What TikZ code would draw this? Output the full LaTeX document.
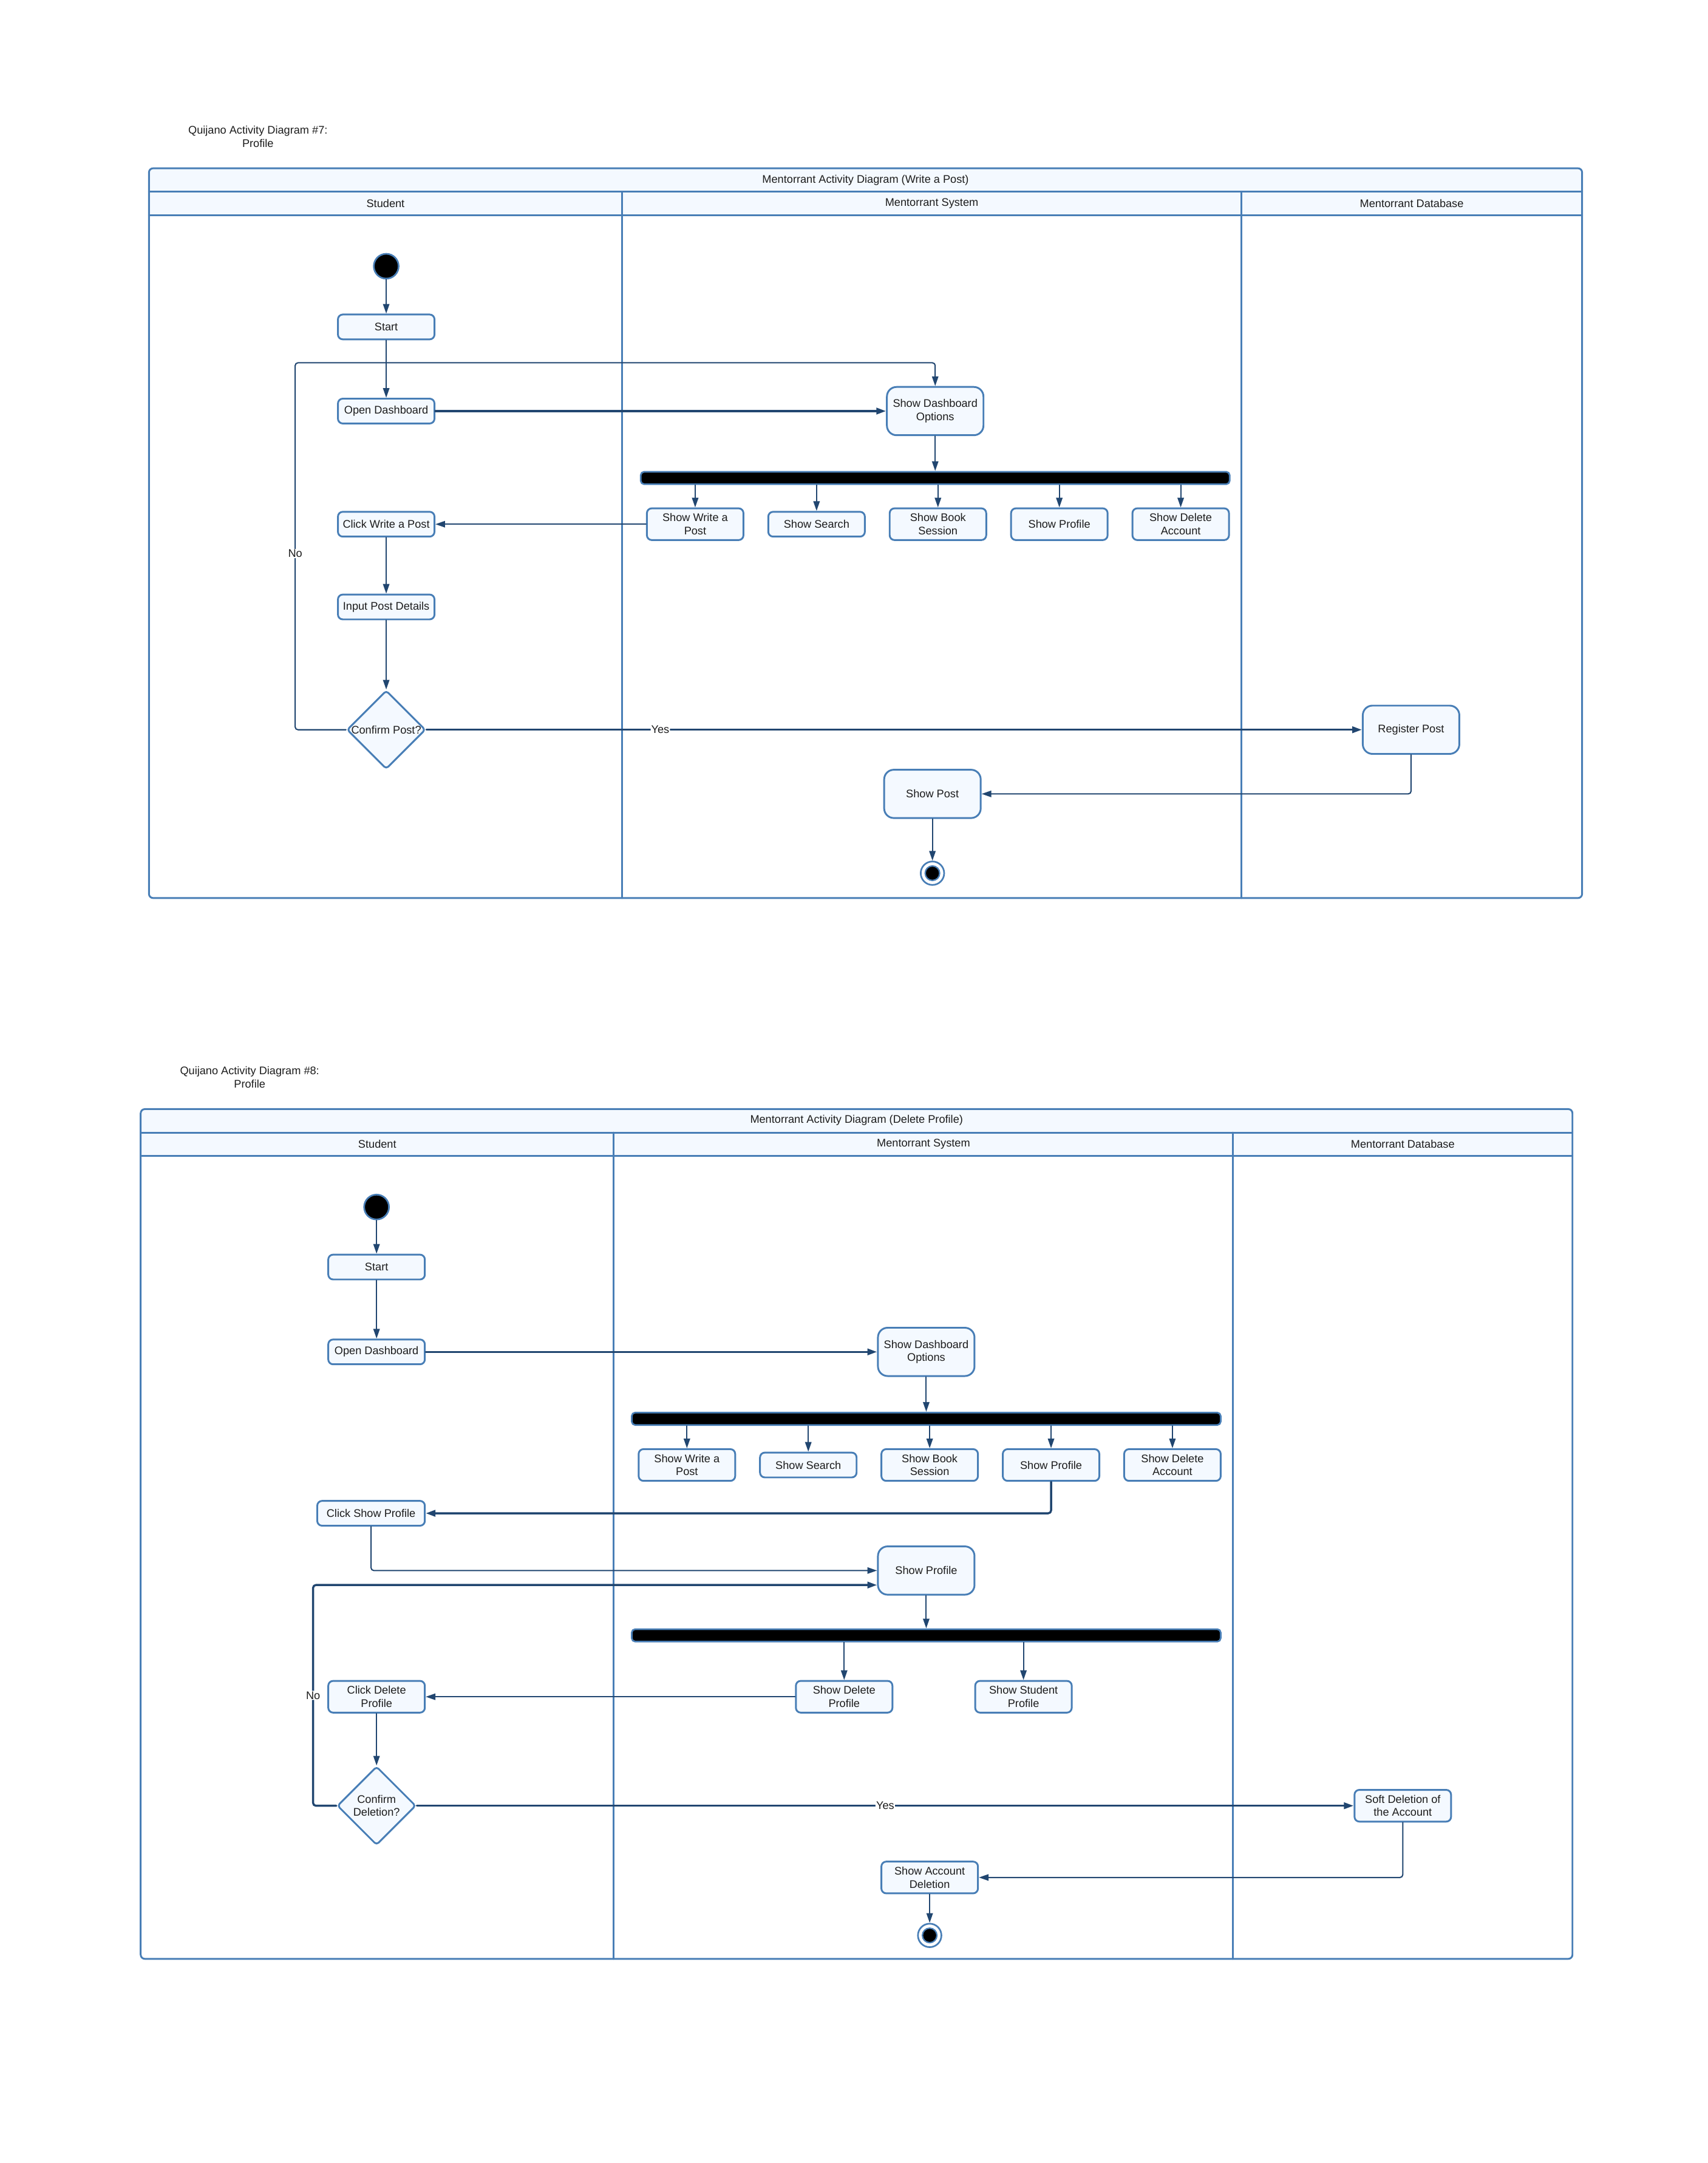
\documentclass[tikz,border=0pt]{standalone}
\usepackage{fontspec}
\setmainfont{Liberation Sans}
\usetikzlibrary{shapes.geometric,arrows.meta}
\definecolor{laneblue}{RGB}{72,126,182}
\definecolor{paleblue}{RGB}{244,249,255}
\definecolor{navy}{RGB}{33,70,112}
\definecolor{inkgrey}{RGB}{28,28,28}

\begin{document}
\begin{tikzpicture}[x=1pt, y=-1pt, font=\fontsize{8}{9.5}\selectfont, text=inkgrey, line join=round, line cap=round,
  >={Triangle[length=7pt,width=4.6pt]},
  lane/.style={draw=laneblue, line width=1.3pt},
  act/.style={draw=laneblue, fill=paleblue, line width=1.3pt, rounded corners=3.5pt, minimum width=70pt, minimum height=18pt, inner sep=1.5pt, align=center},
  opt/.style={act, minimum height=23pt},
  bigact/.style={act, minimum height=35pt, rounded corners=7pt},
  decide/.style={diamond, draw=laneblue, fill=paleblue, line width=1.3pt, rounded corners=2pt, minimum size=57pt, inner sep=0pt, align=center},
  bar/.style={draw=laneblue, fill=black, line width=1.2pt, rounded corners=2.5pt, minimum width=427pt, minimum height=9pt, inner sep=0pt},
  startdot/.style={circle, draw=laneblue, fill=black, line width=1.2pt, minimum size=18pt, inner sep=0pt},
  finish/.style={circle, draw=laneblue, fill=white, line width=1.2pt, minimum size=17pt, inner sep=0pt},
  finishdot/.style={circle, draw=laneblue, fill=black, line width=1pt, minimum size=10.5pt, inner sep=0pt},
  flow/.style={->, draw=navy, line width=0.9pt, rounded corners=2pt},
  boldflow/.style={flow, line width=1.5pt},
  lbl/.style={fill=white, inner sep=0.5pt}]
\useasboundingbox (0,0) rectangle (1238,1568);

% diagram 7: write a post
\node[align=center] (cap7) at (187,99) {Quijano Activity Diagram \#7:\\Profile};
\fill[paleblue] (108,122) rectangle (1147,156);
\draw[lane] (108,139) -- (1147,139) (108,156) -- (1147,156) (451,139) -- (451,651) (900,139) -- (900,651);
\draw[lane, rounded corners=3pt] (108,122) rectangle (1147,651);
\node (head7) at (627.5,130.5) {Mentorrant Activity Diagram (Write a Post)};
\node (stu7) at (279.5,147.5) {Student};
\node (sys7) at (675.5,147.5) {Mentorrant System};
\node (db7) at (1023.5,147.5) {Mentorrant Database};

\node[startdot] (init7) at (280,193) {};
\node[act] (start7) at (280,237) {Start};
\node[act] (open7) at (280,298) {Open Dashboard};
\node[bigact] (dash7) at (678,298) {Show Dashboard\\Options};
\node[bar] (fork7) at (678,346.5) {};
\node[opt] (write7) at (504,380) {Show Write a\\Post};
\node[act] (search7) at (592,380) {Show Search};
\node[opt] (book7) at (680,380) {Show Book\\Session};
\node[opt] (prof7) at (768,380) {Show Profile};
\node[opt] (del7) at (856,380) {Show Delete\\Account};
\node[act] (click7) at (280,380) {Click Write a Post};
\node[act] (input7) at (280,440) {Input Post Details};
\node[decide] (conf7) at (280,529) {Confirm Post?};
\node[bigact] (reg7) at (1023,529) {Register Post};
\node[bigact] (show7) at (676,575.5) {Show Post};
\node[finish] (end7) at (676,633) {};
\node[finishdot] (end7dot) at (end7) {};
\coordinate (back7) at (214,263);

\draw[flow] (init7) -- (start7);
\draw[flow] (start7) -- (open7);
\draw[boldflow] (open7) -- (dash7);
\draw[flow] (dash7) -- (fork7);
\foreach \n in {write7,search7,book7,prof7,del7}
  \draw[flow] (fork7.south -| \n.north) -- (\n.north);
\draw[flow] (write7) -- (click7);
\draw[flow] (click7) -- (input7);
\draw[flow] (input7) -- (conf7);
\draw[flow] (conf7.west) -| node[lbl, pos=0.74] (no7) {No} (back7) -| (dash7.north);
\draw[boldflow] (conf7) -- node[lbl, pos=0.25] (yes7) {Yes} (reg7);
\draw[flow] (reg7.south) |- (show7.east);
\draw[flow] (show7) -- (end7);

% diagram 8: delete profile
\node[align=center] (cap8) at (181,781) {Quijano Activity Diagram \#8:\\Profile};
\fill[paleblue] (102,804) rectangle (1140,838);
\draw[lane] (102,821) -- (1140,821) (102,838) -- (1140,838) (445,821) -- (445,1420) (894,821) -- (894,1420);
\draw[lane, rounded corners=3pt] (102,804) rectangle (1140,1420);
\node (head8) at (621,812) {Mentorrant Activity Diagram (Delete Profile)};
\node (stu8) at (273.5,829.5) {Student};
\node (sys8) at (669.5,829.5) {Mentorrant System};
\node (db8) at (1017,829.5) {Mentorrant Database};

\node[startdot] (init8) at (273,875) {};
\node[act] (start8) at (273,918.5) {Start};
\node[act] (open8) at (273,980) {Open Dashboard};
\node[bigact] (dash8) at (671.5,980) {Show Dashboard\\Options};
\node[bar] (fork8) at (671.5,1028.5) {};
\node[opt] (write8) at (498,1062) {Show Write a\\Post};
\node[act] (search8) at (586,1062) {Show Search};
\node[opt] (book8) at (674,1062) {Show Book\\Session};
\node[opt] (prof8) at (762,1062) {Show Profile};
\node[opt] (del8) at (850,1062) {Show Delete\\Account};
\node[act, minimum width=78pt] (click8) at (269,1097) {Click Show Profile};
\node[bigact] (view8) at (671.5,1138.5) {Show Profile};
\node[bar] (fork8b) at (671.5,1185.5) {};
\node[opt] (delp8) at (612,1230) {Show Delete\\Profile};
\node[opt] (stud8) at (742,1230) {Show Student\\Profile};
\node[opt] (clickdel8) at (273,1230) {Click Delete\\Profile};
\node[decide] (conf8) at (273,1309) {Confirm\\Deletion?};
\node[opt] (soft8) at (1017,1309) {Soft Deletion of\\the Account};
\node[opt] (acct8) at (674,1361) {Show Account\\Deletion};
\node[finish] (end8) at (674,1403) {};
\node[finishdot] (end8dot) at (end8) {};
\coordinate (back8) at (227,1149);

\draw[flow] (init8) -- (start8);
\draw[flow] (start8) -- (open8);
\draw[boldflow] (open8) -- (dash8);
\draw[flow] (dash8) -- (fork8);
\foreach \n in {write8,search8,book8,prof8,del8}
  \draw[flow] (fork8.south -| \n.north) -- (\n.north);
\draw[boldflow] (prof8.south) |- (click8.east);
\draw[flow] (click8.south) |- (view8.west);
\draw[boldflow] (conf8.west) -| node[lbl, pos=0.75] (no8) {No} (back8) -- (back8 -| view8.west);
\draw[flow] (view8) -- (fork8b);
\foreach \n in {delp8,stud8}
  \draw[flow] (fork8b.south -| \n.north) -- (\n.north);
\draw[flow] (delp8) -- (clickdel8);
\draw[flow] (clickdel8) -- (conf8);
\draw[boldflow] (conf8) -- node[lbl, pos=0.5] (yes8) {Yes} (soft8);
\draw[flow] (soft8.south) |- (acct8.east);
\draw[flow] (acct8) -- (end8);
\end{tikzpicture}
\end{document}
